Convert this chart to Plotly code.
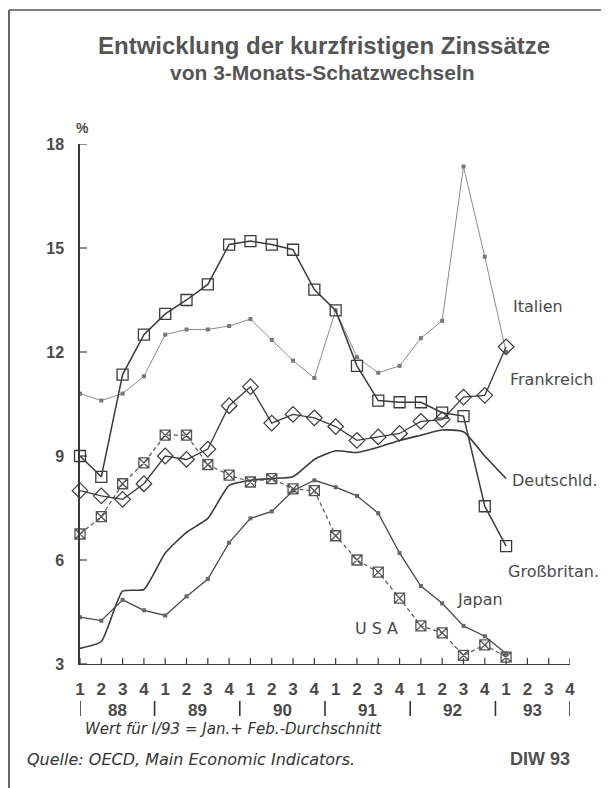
import plotly.graph_objects as go

# ---------------- data ----------------
quarter_labels = ["1", "2", "3", "4"] * 6          # 1/88 .. 4/93
year_labels = ["88", "89", "90", "91", "92", "93"]
year_pos = [1.75, 5.5, 9.5, 13.5, 17.5, 21.25]
year_sep = [0, 3.5, 7.5, 11.5, 15.5, 19.5, 23]
x_idx = list(range(21))                              # 1/88 .. 1/93

italien = [10.8, 10.6, 10.8, 11.3, 12.5, 12.65, 12.65, 12.75, 12.95, 12.35, 11.75,
           11.25, 13.2, 11.85, 11.4, 11.6, 12.4, 12.9, 17.35, 14.75, 12.0]
gb = [9.0, 8.4, 11.35, 12.5, 13.1, 13.5, 13.95, 15.1, 15.2, 15.1, 14.95,
      13.8, 13.2, 11.6, 10.6, 10.55, 10.55, 10.25, 10.15, 7.55, 6.4]
frankreich = [8.0, 7.85, 7.75, 8.2, 9.0, 8.9, 9.2, 10.45, 11.0, 9.95, 10.2,
              10.1, 9.85, 9.45, 9.55, 9.65, 10.0, 10.05, 10.7, 10.75, 12.15]
deutschland = [3.45, 3.65, 5.1, 5.15, 6.2, 6.8, 7.2, 8.15, 8.3, 8.35, 8.4,
               8.9, 9.15, 9.1, 9.25, 9.45, 9.6, 9.75, 9.7, 9.0, 8.35]
japan = [4.35, 4.25, 4.85, 4.55, 4.4, 4.95, 5.45, 6.5, 7.2, 7.4, 8.0,
         8.3, 8.1, 7.85, 7.35, 6.2, 5.25, 4.75, 4.1, 3.8, 3.3]
usa = [6.75, 7.25, 8.2, 8.8, 9.6, 9.6, 8.75, 8.45, 8.25, 8.35, 8.05,
       8.0, 6.7, 6.0, 5.65, 4.9, 4.1, 3.9, 3.25, 3.55, 3.2]
y_ticks = [3, 6, 9, 12, 15, 18]

# ---------------- layout geometry ----------------
OFF = 8                      # page body margin of the browser
W, H = 609 - OFF, 788 - OFF
L, R, T, B = 80 - OFF, 570 - OFF, 144 - OFF, 664 - OFF


def px_x(p):
    # p: window pixel
    return (p - OFF - L) / (R - L)


def px_y(p):
    return (B - (p - OFF)) / (B - T)


DARK = "#3a3a3a"
TXT = "#4a4a4a"
FONT = "Liberation Sans"
WIDE = "DejaVu Sans"

fig = go.Figure()

fig.add_trace(go.Scatter(x=x_idx, y=italien, mode="lines+markers", cliponaxis=False,
                         line=dict(color="#8c8c8c", width=1),
                         marker=dict(symbol="square", size=4, color="#777777")))
fig.add_trace(go.Scatter(x=x_idx, y=deutschland, mode="lines", cliponaxis=False,
                         line=dict(color=DARK, width=1.6, shape="spline", smoothing=0.5)))
fig.add_trace(go.Scatter(x=x_idx, y=japan, mode="lines+markers", cliponaxis=False,
                         line=dict(color="#4a4a4a", width=1.3),
                         marker=dict(symbol="square", size=4, color="#666666")))
fig.add_trace(go.Scatter(x=x_idx, y=usa, mode="lines+markers", cliponaxis=False,
                         line=dict(color="#555555", width=1.2, dash="4px,3px"),
                         marker=dict(symbol="square-x-open", size=10,
                                     color="#555555", line=dict(width=1.3))))
fig.add_trace(go.Scatter(x=x_idx, y=frankreich, mode="lines+markers", cliponaxis=False,
                         line=dict(color=DARK, width=1.3),
                         marker=dict(symbol="diamond-open", size=12,
                                     color=DARK, line=dict(width=1.2))))
fig.add_trace(go.Scatter(x=x_idx, y=gb, mode="lines+markers", cliponaxis=False,
                         line=dict(color=DARK, width=1.5),
                         marker=dict(symbol="square-open", size=11,
                                     color=DARK, line=dict(width=1.3))))

shapes = []
# axis tick marks crossing the axes
for i in range(len(quarter_labels)):
    shapes.append(dict(type="line", xref="x", yref="y", ysizemode="pixel", yanchor=3,
                       x0=i, x1=i, y0=-8, y1=6, line=dict(color=DARK, width=1.2)))
for v in y_ticks:
    shapes.append(dict(type="line", xref="x", yref="y", xsizemode="pixel", xanchor=0,
                       x0=-7, x1=7, y0=v, y1=v, line=dict(color=DARK, width=1.2)))
# year separators
for s in year_sep:
    shapes.append(dict(type="line", xref="x", yref="paper", x0=s, x1=s,
                       y0=px_y(701), y1=px_y(716), line=dict(color="#333333", width=1.6)))
# scanned frame (left and top edge)
shapes.append(dict(type="line", xref="paper", yref="paper", x0=px_x(9), x1=px_x(9),
                   y0=px_y(10), y1=px_y(790), line=dict(color="#333333", width=1.5)))
shapes.append(dict(type="line", xref="paper", yref="paper", x0=px_x(9), x1=px_x(606),
                   y0=px_y(10), y1=px_y(10), line=dict(color="#555555", width=1.5)))

ann = []


def text(x, y, s, size, font=FONT, bold=False, italic=False, xanchor="left", color=TXT):
    ann.append(dict(x=px_x(x), y=px_y(y), xref="paper", yref="paper", text=s, showarrow=False,
                    xanchor=xanchor, yanchor="middle",
                    font=dict(family=font, size=size, color=color,
                              weight="bold" if bold else "normal",
                              style="italic" if italic else "normal")))


text(324, 45, "Entwicklung der kurzfristigen Zinssätze", 24, bold=True, xanchor="center", color="#555555")
text(322, 72, "von 3-Monats-Schatzwechseln", 21, bold=True, xanchor="center", color="#555555")
text(82, 128, "%", 14, bold=True, xanchor="center")

text(511, 306, "Italien", 16, font=WIDE)
text(508, 379, "Frankreich", 16, font=WIDE)
text(510, 481, "Deutschld.", 16, font=WIDE)
text(506, 571, "Großbritan.", 16, font=WIDE)
text(455, 599, "Japan", 16, font=WIDE)
text(353, 628, "U S A", 16, font=WIDE)

for yl, yp in zip(year_labels, year_pos):
    ann.append(dict(x=yp, y=px_y(710), xref="x", yref="paper", text=yl, showarrow=False,
                    xanchor="center", yanchor="middle",
                    font=dict(family=FONT, size=17, color=TXT, weight="bold")))

text(83, 729, "Wert für I/93 = Jan.+ Feb.-Durchschnitt", 15, font=WIDE, italic=True, color="#333333")
text(25, 759, "Quelle: OECD, Main Economic Indicators.", 16, font=WIDE, italic=True, color="#333333")
text(572, 759, "DIW 93", 18, bold=True, xanchor="right", color="#505050")

fig.update_layout(
    width=W, height=H, autosize=False,
    margin=dict(l=L, r=W - R, t=T, b=H - B, pad=0),
    paper_bgcolor="white", plot_bgcolor="white",
    showlegend=False,
    shapes=shapes, annotations=ann,
    xaxis=dict(range=[0, 23], showgrid=False, zeroline=False, showline=True,
               linecolor=DARK, linewidth=1.3, ticks="",
               tickmode="array", tickvals=list(range(len(quarter_labels))),
               ticktext=quarter_labels, ticklabelstandoff=9,
               tickfont=dict(family=FONT, size=17, color=TXT, weight="bold")),
    yaxis=dict(range=[3, 18], showgrid=False, zeroline=False, showline=True,
               linecolor=DARK, linewidth=1.5, ticks="",
               tickmode="array", tickvals=y_ticks, ticklabelstandoff=11,
               tickfont=dict(family=FONT, size=16, color=TXT, weight="bold")),
)

fig.write_html("out.html")
